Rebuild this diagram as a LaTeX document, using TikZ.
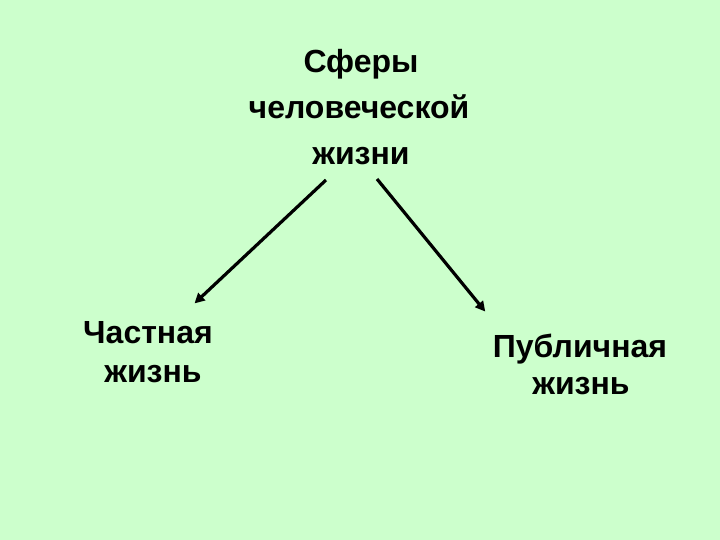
\documentclass[tikz,border=0pt]{standalone}
\usepackage{fontspec}
\setmainfont{Liberation Sans}
\usetikzlibrary{arrows.meta}
\definecolor{bg}{HTML}{CCFFCC}
\tikzset{
  lbl/.style={inner sep=0pt, font=\bfseries\fontsize{32}{32}\selectfont, anchor=base},
  conn/.style={line width=3.2pt, draw=black, -{Triangle[length=10pt,width=10pt]}, shorten >=-2pt}
}
\begin{document}
\begin{tikzpicture}[x=1pt,y=-1pt]
\fill[bg] (0,0) rectangle (720,540);
\useasboundingbox (0,0) rectangle (720,540);
\node[lbl] (top1) at (361,73) {Сферы};
\node[lbl] (top2) at (359,119) {человеческой};
\node[lbl] (top) at (361,165) {жизни};
\node[lbl] (left1) at (148,343) {Частная};
\node[lbl] (left) at (153,382) {жизнь};
\node[lbl] (right1) at (580,357) {Публичная};
\node[lbl] (right) at (581,394) {жизнь};
\coordinate (a1) at (326,180);
\coordinate (a2) at (196,302);
\coordinate (b1) at (377,179);
\coordinate (b2) at (484,310);
\draw[conn] (a1) -- (a2);
\draw[conn] (b1) -- (b2);
\end{tikzpicture}
\end{document}
